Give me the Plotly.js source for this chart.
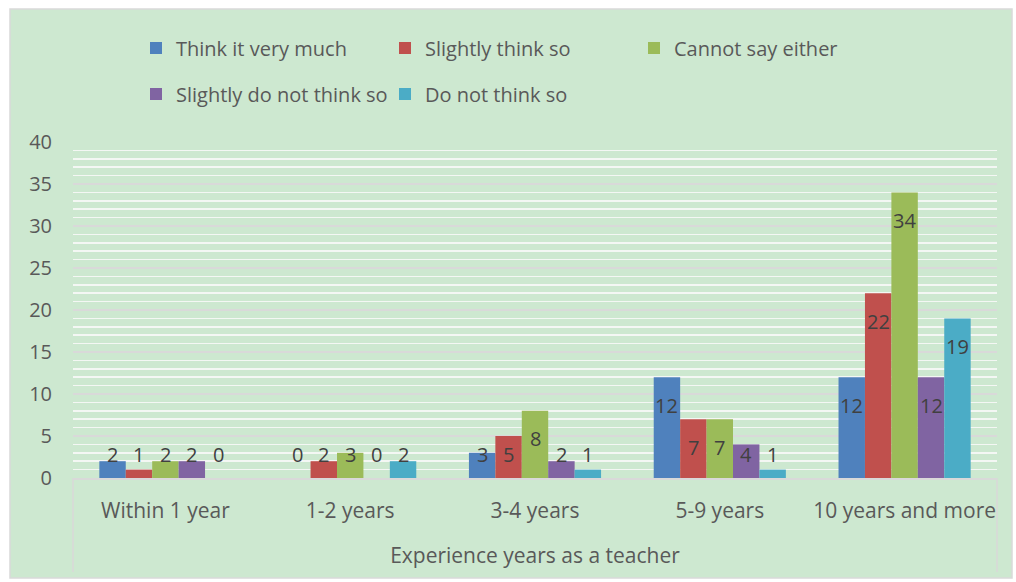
<!DOCTYPE html>
<html>
<head>
<meta charset="utf-8">
<script src="https://cdn.plot.ly/plotly-3.0.1.min.js"></script>
<style>html,body{margin:0;padding:0;background:#fff;}#chart{width:1016px;height:582px;}</style>
</head>
<body>
<div id="chart"></div>
<script>
const categories = ['Within 1 year', '1-2 years', '3-4 years', '5-9 years', '10 years and more'];
const seriesNames = ['Think it very much', 'Slightly think so', 'Cannot say either', 'Slightly do not think so', 'Do not think so'];
const thinkVeryMuch = [2, 0, 3, 12, 12];
const slightlyThink = [1, 2, 5, 7, 22];
const cannotSay = [2, 3, 8, 7, 34];
const slightlyNot = [2, 0, 2, 4, 12];
const doNotThink = [0, 2, 1, 1, 19];
const yTicks = [0, 5, 10, 15, 20, 25, 30, 35, 40];
const xTitle = 'Experience years as a teacher';

const colors = ['#4f81bd', '#c0504d', '#9bbb59', '#8064a2', '#4bacc6'];
const allSeries = [thinkVeryMuch, slightlyThink, cannotSay, slightlyNot, doNotThink];
const FONT = '"Open Sans", "Noto Sans", sans-serif';
const TXT = '#595959';

const W = 1016, H = 582;
const L = 73, R = 19, T = 142, B = 104;
const pw = W - L - R, ph = H - T - B;
const px = v => (v - L) / pw;
const py = v => (H - B - v) / ph;
const YMAX = 40;
const BARGAP = 0.285;
const nSeries = allSeries.length;
const barPx = pw / categories.length * (1 - BARGAP) / nSeries;
const pxPerUnit = ph / YMAX;

const traces = allSeries.map((vals, i) => ({
  type: 'bar',
  name: seriesNames[i],
  x: categories,
  y: vals,
  marker: {color: colors[i], line: {width: 0}},
  legend: i < 3 ? 'legend' : 'legend2',
  hoverinfo: 'none'
}));

// data labels: "inside end" style, kept above a minimum height like the original
const annotations = [];
allSeries.forEach((vals, i) => {
  vals.forEach((v, j) => {
    const topPx = v * pxPerUnit;
    const centerPx = Math.max(topPx - 28, 23.5);
    annotations.push({
      xref: 'x', yref: 'y', x: categories[j], y: v,
      xshift: (i - (nSeries - 1) / 2) * barPx,
      yshift: centerPx - topPx,
      text: String(v), showarrow: false,
      xanchor: 'center', yanchor: 'middle',
      font: {family: FONT, size: 20, color: '#404040'}
    });
  });
});

const legendBase = {
  orientation: 'h', xref: 'container', yref: 'container',
  x: 136 / W, xanchor: 'left', yanchor: 'middle',
  entrywidth: 204, entrywidthmode: 'pixels',
  font: {family: FONT, size: 20, color: TXT},
  bgcolor: 'rgba(0,0,0,0)', itemclick: false, itemdoubleclick: false
};

const layout = {
  width: W, height: H,
  margin: {l: L, r: R, t: T, b: B, pad: 0},
  paper_bgcolor: '#ffffff',
  plot_bgcolor: 'rgba(0,0,0,0)',
  barmode: 'group',
  bargap: BARGAP,
  bargroupgap: 0,
  font: {family: FONT, size: 21, color: TXT},
  showlegend: true,
  legend: Object.assign({}, legendBase, {y: 1 - 48 / H}),
  legend2: Object.assign({}, legendBase, {y: 1 - 94 / H}),
  xaxis: {
    type: 'category',
    showgrid: false,
    showline: true, linecolor: '#d9d9d9', linewidth: 1.5,
    ticks: '',
    tickfont: {family: FONT, size: 21, color: TXT},
    ticklabelstandoff: 13,
    title: {text: xTitle, font: {family: FONT, size: 21, color: TXT}, standoff: 25},
    zeroline: false, fixedrange: true
  },
  yaxis: {
    range: [0, YMAX],
    tickvals: yTicks,
    ticktext: yTicks.map(String),
    showgrid: true, gridcolor: '#d9d9d9', gridwidth: 1.5,
    minor: {dtick: 1, showgrid: true, gridcolor: '#f4f7f4', gridwidth: 1.5, ticks: ''},
    zeroline: false, showline: false, ticks: '',
    tickfont: {family: FONT, size: 20, color: TXT},
    ticklabelstandoff: 20,
    fixedrange: true
  },
  annotations: annotations,
  shapes: [
    {type: 'rect', xref: 'paper', yref: 'paper', layer: 'below',
     x0: px(10), x1: px(1012), y0: py(578), y1: py(9),
     fillcolor: '#cde8d0', line: {color: '#d9d9d9', width: 1.5}},
    {type: 'line', xref: 'paper', yref: 'paper', layer: 'below',
     x0: 0, x1: 0, y0: 0, y1: py(572), line: {color: '#d9d9d9', width: 1.5}},
    {type: 'line', xref: 'paper', yref: 'paper', layer: 'below',
     x0: 1, x1: 1, y0: 0, y1: py(572), line: {color: '#d9d9d9', width: 1.5}}
  ]
};

Plotly.newPlot('chart', traces, layout, {displayModeBar: false, staticPlot: true});
</script>
</body>
</html>
